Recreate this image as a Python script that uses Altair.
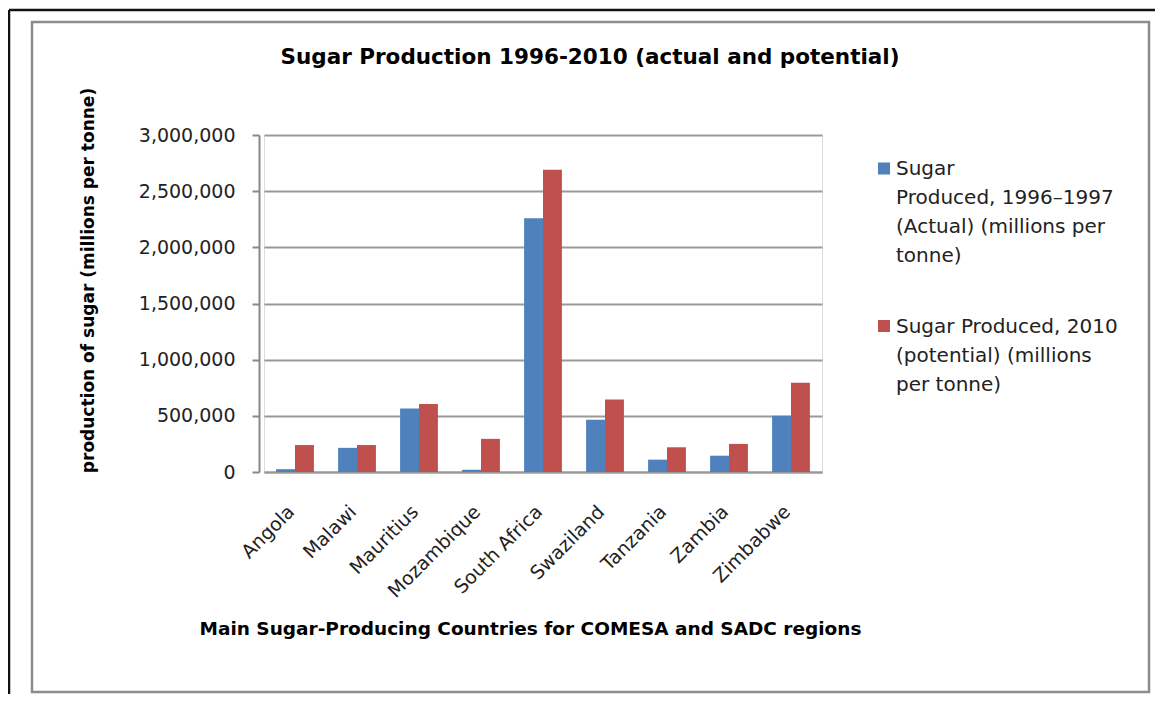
import altair as alt
import pandas as pd

countries = ["Angola", "Malawi", "Mauritius", "Mozambique", "South Africa",
             "Swaziland", "Tanzania", "Zambia", "Zimbabwe"]
actual_1996_97 = [25000, 215000, 565000, 20000, 2260000, 465000, 110000, 145000, 500000]
potential_2010 = [240000, 240000, 605000, 295000, 2690000, 645000, 220000, 250000, 795000]
series_names = ["Sugar Produced, 1996–1997 (Actual) (millions per tonne)",
                "Sugar Produced, 2010 (potential) (millions per tonne)"]
series_lines = [["Sugar", "Produced, 1996–1997", "(Actual) (millions per", "tonne)"],
                ["Sugar Produced, 2010", "(potential) (millions", "per tonne)"]]
series_colors = ["#4F81BD", "#C0504D"]
y_ticks = [0, 500000, 1000000, 1500000, 2000000, 2500000, 3000000]

rows = []
for c, a, p in zip(countries, actual_1996_97, potential_2010):
    rows.append({"Country": c, "Series": series_names[0], "Value": a})
    rows.append({"Country": c, "Series": series_names[1], "Value": p})
df = pd.DataFrame(rows)

FONT = "DejaVu Sans"
W, H = 558, 337
color_scale = alt.Scale(domain=series_names, range=series_colors)

bars = alt.Chart(df).mark_bar().encode(
    x=alt.X("Country:N", sort=countries,
            scale=alt.Scale(paddingInner=0.39, paddingOuter=0.195),
            axis=alt.Axis(title="Main Sugar-Producing Countries for COMESA and SADC regions",
                          labelAngle=-45, labelFontSize=19, labelFont=FONT, labelColor="#222",
                          labelPadding=30, labelOffset=-10, ticks=False,
                          domainColor="#999", domainWidth=2,
                          titleFont=FONT, titleFontSize=18.5, titleFontWeight="bold",
                          titleColor="#000", titleX=266, titleY=156, titleBaseline="middle")),
    xOffset=alt.XOffset("Series:N", sort=series_names),
    y=alt.Y("Value:Q",
            scale=alt.Scale(domain=[0, 3000000], nice=False),
            axis=alt.Axis(title="production of sugar (millions per tonne)",
                          values=y_ticks, format=",d", offset=5,
                          labelFontSize=19, labelFont=FONT, labelColor="#222",
                          labelPadding=17, tickSize=7, tickColor="#888", tickWidth=2,
                          domainColor="#888", domainWidth=2,
                          grid=True, gridColor="#999", gridWidth=2,
                          titleFont=FONT, titleFontSize=17, titleFontWeight="bold",
                          titleColor="#000", titleX=-171, titleY=145,
                          titleBaseline="middle")),
    color=alt.Color("Series:N", scale=color_scale, legend=None),
)

leg_df = pd.DataFrame({"Series": series_names, "Lines": series_lines})
leg_sq1 = alt.Chart(leg_df.iloc[[0]]).mark_square(size=144, opacity=1).encode(
    x=alt.value(620), y=alt.value(33.5),
    color=alt.Color("Series:N", scale=color_scale, legend=None))
leg_sq2 = alt.Chart(leg_df.iloc[[1]]).mark_square(size=144, opacity=1).encode(
    x=alt.value(620), y=alt.value(191),
    color=alt.Color("Series:N", scale=color_scale, legend=None))
leg_tx1 = alt.Chart(leg_df.iloc[[0]]).mark_text(
    align="left", baseline="alphabetic", font=FONT, fontSize=20, lineHeight=29, color="#222"
).encode(x=alt.value(632), y=alt.value(40), text="Lines")
leg_tx2 = alt.Chart(leg_df.iloc[[1]]).mark_text(
    align="left", baseline="alphabetic", font=FONT, fontSize=20, lineHeight=29, color="#222"
).encode(x=alt.value(632), y=alt.value(198), text="Lines")

frame = alt.Chart(pd.DataFrame({"k": [0]})).mark_rect(
    fill=None, stroke="#8c8c8c", strokeWidth=2.5
).encode(x=alt.value(-232), x2=alt.value(885), y=alt.value(-113), y2=alt.value(557))

outer_top = alt.Chart(pd.DataFrame({"k": [0]})).mark_rule(
    color="#111", strokeWidth=2.5
).encode(x=alt.value(-255), x2=alt.value(900), y=alt.value(-125))
outer_left = alt.Chart(pd.DataFrame({"k": [0]})).mark_rule(
    color="#111", strokeWidth=2.5
).encode(x=alt.value(-255), y=alt.value(-125), y2=alt.value(570))

chart = alt.layer(frame, outer_top, outer_left, bars,
                  leg_sq1, leg_sq2, leg_tx1, leg_tx2).properties(
    width=W, height=H,
    autosize=alt.AutoSizeParams(type="none"),
    padding={"left": 256, "top": 127, "right": 333, "bottom": 222},
    title=alt.TitleParams("Sugar Production 1996-2010 (actual and potential)",
                          font=FONT, fontSize=21.5, fontWeight="bold", color="#000",
                          anchor="middle", dx=47, offset=-60),
).configure_view(stroke=None).configure(background="white")

chart.save("out.html", embed_options={"renderer": "svg", "actions": False})
